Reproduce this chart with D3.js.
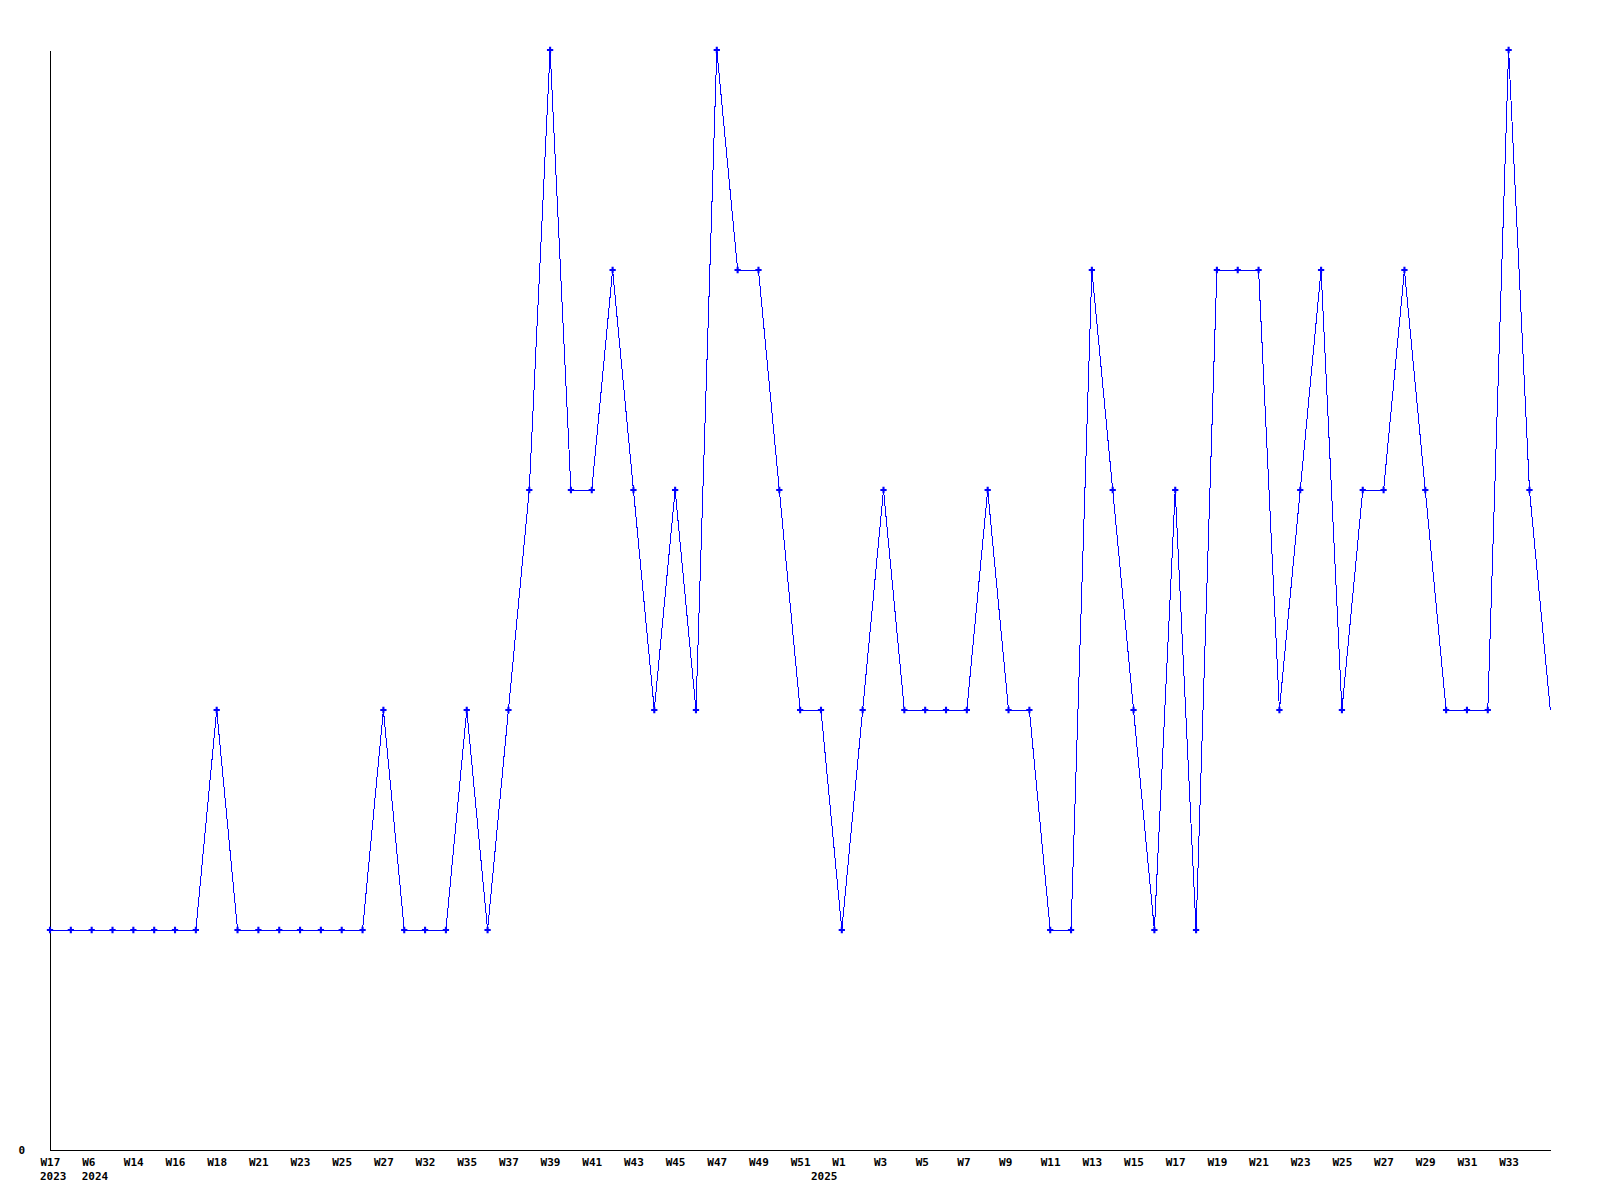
<!DOCTYPE html>
<html>
<head>
<meta charset="utf-8">
<script src="https://cdn.jsdelivr.net/npm/d3@7"></script>
<style>
  html, body { margin: 0; padding: 0; background: #fff; }
  svg { display: block; }
  text { font-family: "DejaVu Sans Mono", "Liberation Mono", monospace; font-weight: bold; font-size: 11px; fill: #000; }
</style>
</head>
<body>
<svg id="chart" width="1600" height="1200"></svg>
<script>
// ---- data ----
const weeks = [
  "2023-W17","2023-W18","2024-W6","2024-W8","2024-W14","2024-W15","2024-W16","2024-W17",
  "2024-W18","2024-W19","2024-W21","2024-W22","2024-W23","2024-W24","2024-W25","2024-W26",
  "2024-W27","2024-W30","2024-W32","2024-W33","2024-W35","2024-W36","2024-W37","2024-W38",
  "2024-W39","2024-W40","2024-W41","2024-W42","2024-W43","2024-W44","2024-W45","2024-W46",
  "2024-W47","2024-W48","2024-W49","2024-W50","2024-W51","2024-W52","2025-W1","2025-W2",
  "2025-W3","2025-W4","2025-W5","2025-W6","2025-W7","2025-W8","2025-W9","2025-W10",
  "2025-W11","2025-W12","2025-W13","2025-W14","2025-W15","2025-W16","2025-W17","2025-W18",
  "2025-W19","2025-W20","2025-W21","2025-W22","2025-W23","2025-W24","2025-W25","2025-W26",
  "2025-W27","2025-W28","2025-W29","2025-W30","2025-W31","2025-W32","2025-W33","2025-W34",
  "2025-W35"
];
const values = [
  1,1,1,1,1,1,1,1,
  2,1,1,1,1,1,1,1,
  2,1,1,1,2,1,2,3,
  5,3,3,4,3,2,3,2,
  5,4,4,3,2,2,1,2,
  3,2,2,2,2,3,2,2,
  1,1,4,3,2,1,3,1,
  4,4,4,2,3,4,2,3,
  3,4,3,2,2,2,5,3,
  2
];
// tick labels shown on the x axis (every second week)
const tickWeeks = weeks.filter((d, i) => i % 2 === 0 && i < 72);
const tickText = w => w.split("-")[1];
// year labels under the axis, anchored to a week
const yearKeys = ["2023-W17", "2024-W6", "2024-W52"];
const yearTexts = ["2023", "2024", "2025"];
const yTicks = [0];
const yMax = 5;

// ---- chart ----
const svg = d3.select("#chart");
const x = d3.scalePoint().domain(weeks).range([50, 1550.3]);
const y = d3.scaleLinear().domain([0, yMax]).range([1150, 50]);

// axes
const xAxis = d3.axisBottom(x).tickValues(tickWeeks).tickSize(0).tickSizeOuter(0).tickFormat(tickText);
const gx = svg.append("g").attr("transform", "translate(0,1150)").call(xAxis);
gx.attr("font-family", null).attr("font-size", null);
gx.select(".domain").attr("stroke", "#000").attr("shape-rendering", "crispEdges");
gx.selectAll(".tick text")
  .attr("text-anchor", "start")
  .attr("x", -10)
  .attr("y", 0)
  .attr("dy", 16);

const yAxis = d3.axisLeft(y).tickValues(yTicks).tickFormat(d3.format("d"))
  .tickSize(0).tickSizeOuter(0).tickPadding(25);
const gy = svg.append("g").attr("transform", "translate(50,0)").call(yAxis);
gy.attr("font-family", null).attr("font-size", null);
gy.select(".domain").attr("stroke", "#000").attr("shape-rendering", "crispEdges");
gy.selectAll(".tick text").attr("dy", 3.5);

// year labels
svg.append("g").selectAll("text")
  .data(yearKeys)
  .join("text")
  .attr("x", d => x(d) - 10)
  .attr("y", 1180)
  .text((d, i) => yearTexts[i]);

// line
const line = d3.line().x((d, i) => x(weeks[i])).y(d => y(d));
svg.append("path")
  .datum(values)
  .attr("d", line)
  .attr("fill", "none")
  .attr("stroke", "#0000ff")
  .attr("stroke-width", 1)
  .attr("shape-rendering", "crispEdges");

// markers (none on the final point)
const sym = d3.symbol().type(d3.symbolCross).size(22);
svg.append("g").selectAll("path")
  .data(values.slice(0, values.length - 1))
  .join("path")
  .attr("transform", (d, i) => `translate(${x(weeks[i])},${y(d)})`)
  .attr("d", sym)
  .attr("fill", "#0000ff");
</script>
</body>
</html>
